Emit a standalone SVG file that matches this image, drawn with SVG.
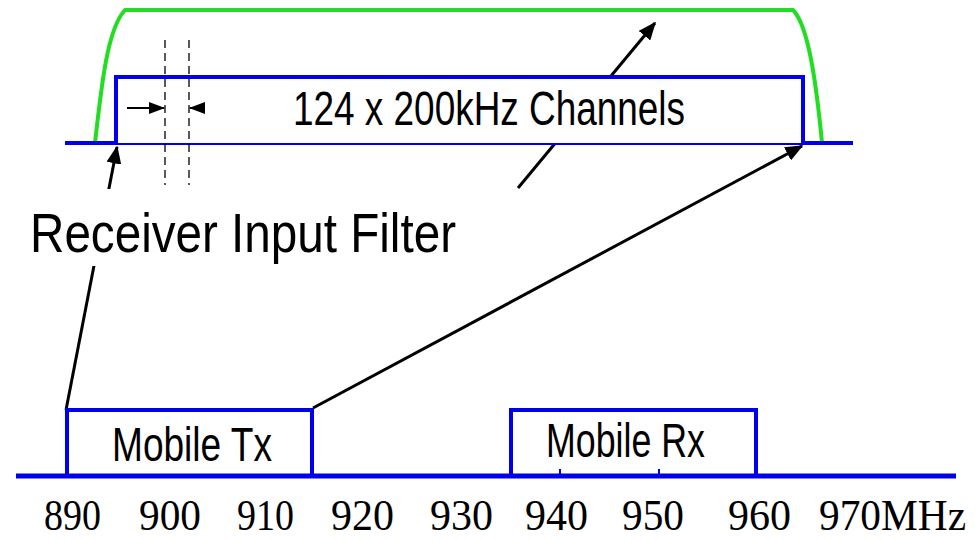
<svg xmlns="http://www.w3.org/2000/svg" width="975" height="540" viewBox="0 0 975 540">
<defs>
<marker id="ah" markerWidth="6" markerHeight="5" refX="5.5" refY="2.5" orient="auto" markerUnits="strokeWidth">
<path d="M0,0 L6,2.5 L0,5 Z" fill="#000"/>
</marker>
<marker id="ahs" markerWidth="8" markerHeight="6" refX="7.5" refY="3" orient="auto" markerUnits="strokeWidth">
<path d="M0,0 L8,3 L0,6 Z" fill="#000"/>
</marker>
<style>
.blue{stroke:#0000ee;stroke-width:4;fill:none}
.bluef{stroke:#0000ee;stroke-width:4;fill:#fff}
.arr{stroke:#000;stroke-width:3;fill:none;marker-end:url(#ah)}
.lbl{font-family:"Liberation Sans Narrow","Liberation Sans",Arial,sans-serif;fill:#000}
.freq{font-family:"Liberation Serif","Times New Roman",serif;font-size:44px;fill:#000}
.dash{stroke:#000;stroke-width:1.3;stroke-dasharray:8 5;fill:none}
</style>
</defs>
<rect width="975" height="540" fill="#fff"/>
<g id="connectors">
<line class="arr" x1="66" y1="410" x2="117" y2="147"/>
<line class="arr" x1="518" y1="188" x2="655" y2="23"/>
<line class="arr" x1="313" y1="408" x2="802" y2="146"/>
</g>
<g id="filter">
<path d="M95,143 C102,80 108,28 125,10 L793,10 C808,25 816,80 822,143" fill="none" stroke="#22dd22" stroke-width="4"/>
</g>
<g id="top-axis">
<line class="blue" x1="65" y1="143" x2="853" y2="143"/>
</g>
<g id="channels">
<path class="bluef" d="M116,143 L116,77 L803,77 L803,143"/>
<text class="lbl" x="293" y="125" font-size="48" textLength="392" lengthAdjust="spacingAndGlyphs">124 x 200kHz Channels</text>
<line class="dash" x1="165" y1="40" x2="165" y2="185"/>
<line class="dash" x1="189" y1="40" x2="189" y2="185"/>
<line x1="127" y1="108" x2="164" y2="108" stroke="#000" stroke-width="2" marker-end="url(#ahs)"/>
<line x1="203" y1="108" x2="190" y2="108" stroke="#000" stroke-width="2" marker-end="url(#ahs)"/>
</g>
<g id="receiver-label">
<rect x="20" y="189" width="505" height="77" fill="#fff"/>
<text class="lbl" x="30" y="252" font-size="56" textLength="426" lengthAdjust="spacingAndGlyphs">Receiver Input Filter</text>
</g>
<g id="mobile-tx">
<path class="blue" d="M67,475 L67,410 L312,410 L312,475"/>
<text class="lbl" x="112" y="461" font-size="49" textLength="160" lengthAdjust="spacingAndGlyphs">Mobile Tx</text>
</g>
<g id="mobile-rx">
<path class="blue" d="M511,475 L511,410 L756,410 L756,475"/>
<text class="lbl" x="546" y="457" font-size="49" textLength="159" lengthAdjust="spacingAndGlyphs">Mobile Rx</text>
<line x1="560" y1="469" x2="560" y2="475" stroke="#0000ee" stroke-width="2"/>
<line x1="659" y1="469" x2="659" y2="475" stroke="#0000ee" stroke-width="2"/>
</g>
<g id="bottom-axis">
<line x1="16" y1="476" x2="956" y2="476" stroke="#0000ee" stroke-width="5"/>
<text class="freq" x="44" y="530" textLength="57" lengthAdjust="spacingAndGlyphs">890</text>
<text class="freq" x="139" y="530" textLength="62" lengthAdjust="spacingAndGlyphs">900</text>
<text class="freq" x="237" y="530" textLength="57" lengthAdjust="spacingAndGlyphs">910</text>
<text class="freq" x="331" y="530" textLength="63" lengthAdjust="spacingAndGlyphs">920</text>
<text class="freq" x="430" y="530" textLength="63" lengthAdjust="spacingAndGlyphs">930</text>
<text class="freq" x="525" y="530" textLength="63" lengthAdjust="spacingAndGlyphs">940</text>
<text class="freq" x="622" y="530" textLength="62" lengthAdjust="spacingAndGlyphs">950</text>
<text class="freq" x="728" y="530" textLength="63" lengthAdjust="spacingAndGlyphs">960</text>
<text class="freq" x="819" y="530" font-size="42" textLength="147" lengthAdjust="spacingAndGlyphs">970MHz</text>
</g>
</svg>
